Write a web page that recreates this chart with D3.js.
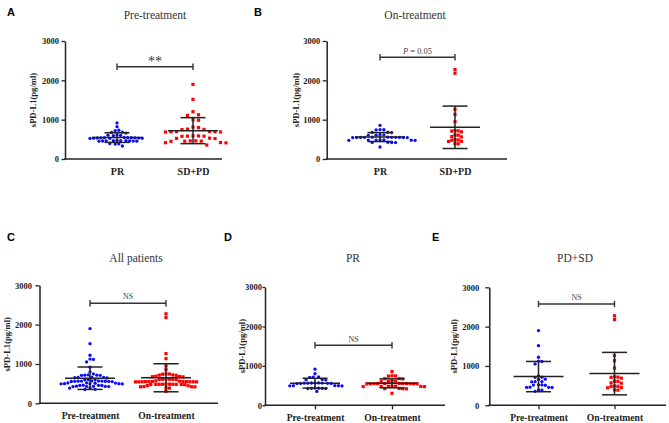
<!DOCTYPE html>
<html>
<head>
<meta charset="utf-8">
<script src="https://cdn.jsdelivr.net/npm/d3@7"></script>
<style>
  body { margin: 0; background: #fff; }
  svg { display: block; }
</style>
</head>
<body>
<script>
// sPD-L1 values (pg/ml)
var aPR = [918, 822, 731, 722, 684, 676, 660, 612, 606, 600, 594, 548, 545, 542, 540, 538, 536, 534, 532, 530, 528, 526, 524,
  470, 468, 466, 464, 462, 460, 458, 456, 454, 452, 392, 386, 380, 331];
var aSDPD = [1897, 1516, 1202, 1125, 1110, 998, 985, 812, 798, 760, 752, 748, 700, 696, 692, 690, 688, 685,
  590, 586, 582, 580, 577, 530, 524, 520, 462, 459, 455, 452, 450, 418, 414, 410, 356];
// on-treatment, by response (also panel D / E on-treatment)
var bPR = [856, 748, 744, 740, 680, 676, 672, 614, 610, 606, 602, 556, 554, 552, 551, 550, 549, 548, 547, 546, 545, 544,
  486, 484, 482, 480, 478, 476, 474, 426, 422, 420, 418, 305];
var bSDPD = [2275, 2180, 1262, 1135, 948, 722, 716, 710, 690, 612, 606, 570, 562, 490, 484, 478, 450, 446, 392, 386];
// paired pre-treatment values
var dPre = [917, 800, 722, 716, 710, 656, 650, 644, 570, 568, 566, 564, 562, 560, 558, 556, 554, 552,
  500, 498, 496, 494, 492, 436, 432, 430, 428, 426, 424, 353];
var ePre = [1899, 1517, 1222, 1125, 1115, 1051, 750, 716, 710, 664, 658, 604, 600, 596, 520, 517, 514, 510,
  460, 457, 455, 452, 392, 386, 356];
var cPre = dPre.concat(ePre);
var cOn = bPR.concat(bSDPD);

var yTicks = [0, 1000, 2000, 3000];
var respCats = ['PR', 'SD+PD'];
var timeCats = ['Pre-treatment', 'On-treatment'];

var serif = '"Liberation Serif", "Times New Roman", serif';
var dark = '#222';
var blue = '#0a0aff';
var red = '#ff0000';

var svg = d3.select('body').append('svg')
  .attr('width', 669)
  .attr('height', 423);

svg.append('rect').attr('width', 669).attr('height', 423).attr('fill', '#fff');

var panels = [
  { letter: 'A', title: 'Pre-treatment', cats: respCats, groups: [aPR, aSDPD], spread: [3.6, 5.5],
    left: 65, right: 222, top: 41, bottom: 159, catX: [117, 193], letterXY: [7, 16], titleXY: [155, 19],
    yTitleX: 33, tick: 3.5, gap: 6, bracketY: 66.7, sig: '**', sigY: 66, xTicks: false },
  { letter: 'B', title: 'On-treatment', cats: respCats, groups: [bPR, bSDPD], spread: [3.9, 3.2],
    left: 326.7, right: 507, top: 41, bottom: 159, catX: [380, 455], letterXY: [254, 16], titleXY: [415, 19],
    yTitleX: 296, tick: 4, gap: 6.5, bracketY: 57.3, sig: 'P', sigY: 53.5, xTicks: false },
  { letter: 'C', title: 'All patients', cats: timeCats, groups: [cPre, cOn], spread: [3.4, 3.4],
    left: 39.5, right: 218, top: 285.3, bottom: 403.3, catX: [90, 166], letterXY: [7, 241], titleXY: [136, 261.5],
    yTitleX: 7, tick: 4, gap: 7.5, bracketY: 303.3, sig: 'NS', sigY: 299, xTicks: false },
  { letter: 'D', title: 'PR', cats: timeCats, groups: [dPre, bPR], spread: [3.6, 3.6],
    left: 265, right: 445, top: 287, bottom: 405.3, catX: [315, 392], letterXY: [224, 241], titleXY: [353, 261.5],
    yTitleX: 241.5, tick: 2.5, gap: 3, bracketY: 345.3, sig: 'NS', sigY: 342, xTicks: true },
  { letter: 'E', title: 'PD+SD', cats: timeCats, groups: [ePre, bSDPD], spread: [3.4, 3.4],
    left: 489.3, right: 666, top: 287.3, bottom: 405.3, catX: [538.5, 614.5], letterXY: [432, 241], titleXY: [575, 261.5],
    yTitleX: 454, tick: 4, gap: 10, bracketY: 304, sig: 'NS', sigY: 300, xTicks: true }
];

// simple beeswarm: keep value on y, push dots sideways until they don't overlap
function swarm(values, y, d) {
  var pts = values.map(function(v) { return { v: v, py: y(v), dx: 0 }; })
    .sort(function(a, b) { return a.py - b.py; });
  var placed = [];
  pts.forEach(function(p) {
    for (var k = 0; k < 200; k++) {
      var off = k === 0 ? 0 : (k % 2 ? 1 : -1) * Math.ceil(k / 2) * d / 2;
      var ok = placed.every(function(q) {
        return Math.hypot(q.dx - off, q.py - p.py) >= d * 0.999;
      });
      if (ok) { p.dx = off; break; }
    }
    placed.push(p);
  });
  return pts;
}

panels.forEach(function(p) {
  var g = svg.append('g').attr('class', 'panel-' + p.letter);

  var y = d3.scaleLinear().domain([0, 3000]).range([p.bottom, p.top]);
  var x = d3.scalePoint().domain(p.cats).range(p.catX);

  // panel letter and title
  g.append('text')
    .attr('x', p.letterXY[0]).attr('y', p.letterXY[1])
    .style('font-family', '"Liberation Sans", Arial, sans-serif')
    .style('font-weight', 'bold')
    .style('font-size', '11px')
    .attr('fill', '#000')
    .text(p.letter);

  g.append('text')
    .attr('x', p.titleXY[0]).attr('y', p.titleXY[1])
    .attr('text-anchor', 'middle')
    .style('font-family', serif)
    .style('font-size', '11.5px')
    .attr('fill', '#333')
    .text(p.title);

  // y axis
  var yAxis = g.append('g')
    .attr('transform', 'translate(' + p.left + ',0)')
    .call(d3.axisLeft(y).tickValues(yTicks).tickFormat(d3.format('d'))
      .tickSize(p.tick).tickSizeOuter(0).tickPadding(p.gap - p.tick));
  yAxis.select('.domain').attr('stroke', dark).attr('stroke-width', 1.5);
  yAxis.selectAll('.tick line').attr('stroke', dark).attr('stroke-width', 1.3);
  yAxis.selectAll('.tick text')
    .style('font-family', serif)
    .style('font-weight', 'bold')
    .style('font-size', '8.5px')
    .attr('fill', '#222');

  g.append('text')
    .attr('transform', 'translate(' + p.yTitleX + ',' + ((p.top + p.bottom) / 2) + ') rotate(-90)')
    .attr('text-anchor', 'middle')
    .attr('dy', '0.35em')
    .style('font-family', serif)
    .style('font-weight', 'bold')
    .style('font-size', '8.6px')
    .attr('fill', '#222')
    .text('sPD-L1(pg/ml)');

  // x axis: plain baseline + category labels
  g.append('line')
    .attr('x1', p.left - 0.75).attr('x2', p.right)
    .attr('y1', p.bottom).attr('y2', p.bottom)
    .attr('stroke', dark).attr('stroke-width', 1.5);

  var tick = p.xTicks ? 4 : 0;
  var xAxis = g.append('g')
    .attr('transform', 'translate(0,' + p.bottom + ')')
    .call(d3.axisBottom(x).tickSize(tick).tickSizeOuter(0).tickPadding(9 - tick));
  xAxis.select('.domain').remove();
  xAxis.selectAll('.tick line').attr('stroke', dark).attr('stroke-width', 1.3);
  xAxis.selectAll('.tick text')
    .style('font-family', serif)
    .style('font-weight', 'bold')
    .style('font-size', p.cats === respCats ? '10px' : '9.6px')
    .attr('fill', '#222');

  // dots then mean +/- SD bars
  p.groups.forEach(function(vals, gi) {
    var cx = x(p.cats[gi]);
    var pts = swarm(vals, y, p.spread[gi]);

    if (gi === 0) {
      g.append('g').selectAll('circle')
        .data(pts).enter().append('circle')
        .attr('cx', function(d) { return cx + d.dx; })
        .attr('cy', function(d) { return d.py; })
        .attr('r', 1.65)
        .attr('fill', blue);
    } else {
      g.append('g').selectAll('rect')
        .data(pts).enter().append('rect')
        .attr('x', function(d) { return cx + d.dx - 1.6; })
        .attr('y', function(d) { return d.py - 1.6; })
        .attr('width', 3.2).attr('height', 3.2)
        .attr('fill', red);
    }

    var m = d3.mean(vals);
    var sd = d3.deviation(vals);
    var bars = g.append('g')
      .attr('stroke', dark)
      .attr('stroke-width', 1.5);
    bars.append('line')
      .attr('x1', cx).attr('x2', cx)
      .attr('y1', y(m + sd)).attr('y2', y(m - sd));
    bars.append('line')
      .attr('x1', cx - 25).attr('x2', cx + 25)
      .attr('y1', y(m)).attr('y2', y(m));
    [m + sd, m - sd].forEach(function(v) {
      bars.append('line')
        .attr('x1', cx - 12.5).attr('x2', cx + 12.5)
        .attr('y1', y(v)).attr('y2', y(v));
    });
  });

  // significance bracket
  var bx1 = x(p.cats[0]), bx2 = x(p.cats[1]);
  var br = g.append('g').attr('stroke', '#333').attr('stroke-width', 1.4);
  br.append('line').attr('x1', bx1).attr('x2', bx2).attr('y1', p.bracketY).attr('y2', p.bracketY);
  [bx1, bx2].forEach(function(bx) {
    br.append('line').attr('x1', bx).attr('x2', bx).attr('y1', p.bracketY - 3.2).attr('y2', p.bracketY + 3.2);
  });

  var sig = g.append('text')
    .attr('x', (bx1 + bx2) / 2).attr('y', p.sigY)
    .attr('text-anchor', 'middle')
    .style('font-family', serif)
    .attr('fill', '#444');
  if (p.sig === 'P') {
    sig.style('font-size', '8.5px');
    sig.append('tspan').style('font-style', 'italic').text('P');
    sig.append('tspan').text(' = 0.05');
  } else if (p.sig === '**') {
    sig.style('font-size', '14px').attr('fill', '#333').text('**');
  } else {
    sig.style('font-size', '8px').text(p.sig);
  }
});
</script>
</body>
</html>
